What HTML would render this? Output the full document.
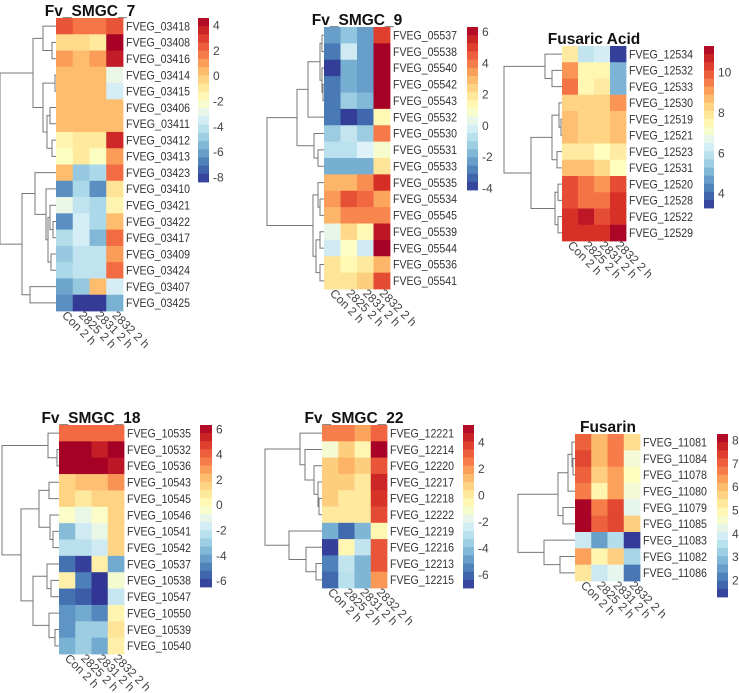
<!DOCTYPE html>
<html><head><meta charset="utf-8">
<style>
html,body{margin:0;padding:0;background:#fff;}
svg{display:block;font-family:"Liberation Sans",Arial,sans-serif;}
</style></head>
<body>
<svg id="fig" width="739" height="693" viewBox="0 0 739 693"></svg>
<script>
const columns = ["Con 2 h","2825 2 h","2831 2 h","2832 2 h"];

const smgc7Genes = ["FVEG_03418","FVEG_03408","FVEG_03416","FVEG_03414","FVEG_03415","FVEG_03406","FVEG_03411","FVEG_03412","FVEG_03413","FVEG_03423","FVEG_03410","FVEG_03421","FVEG_03422","FVEG_03417","FVEG_03409","FVEG_03424","FVEG_03407","FVEG_03425"];
const smgc7Values = [[2.5,1.8,1.8,2.5],[-0.5,-0.5,-1,4.5],[1,0.3,1,3.8],[0.3,0.3,0.3,-2.8],[0.3,0.3,0.3,-3.5],[0.3,0.3,0.3,0.3],[0.3,0.3,0.3,0.3],[-1.5,-1,-1,3.5],[-2,-1,-2,1],[0.3,-5,-4.5,2],[-6.5,-4.5,-6.5,-0.8],[-2.8,-4,-4.5,-1.5],[-6.5,-3.5,-4.5,0.3],[-4.3,-3.5,-5.5,2],[-5,-4,-4,1],[-4.5,-4,-4,2],[-6,-5,0.3,-3.5],[-6.5,-8.3,-8.3,-5.7]];
const smgc7Ticks = [4,2,0,-2,-4,-6,-8];
const smgc7Range = [-8.4,4.55];
const smgc7Tree = [56,[23,[13,0,[4,1,2]],[13,[1,3,4],[9,[6,5,6],[4,7,8]]]],[34,[21,9,[10,10,[8,[6,11,[3,12,13]],[5,14,15]]]],[26,16,17]]];

const smgc9Genes = ["FVEG_05537","FVEG_05538","FVEG_05540","FVEG_05542","FVEG_05543","FVEG_05532","FVEG_05530","FVEG_05531","FVEG_05533","FVEG_05535","FVEG_05534","FVEG_05545","FVEG_05539","FVEG_05544","FVEG_05536","FVEG_05541"];
const smgc9Values = [[-2.3,-1.5,-2.3,5],[-3,-0.3,-2.3,6.3],[-4,-2,-2.3,6.3],[-3,-2,-2.3,6.3],[-3,-1.3,-1.8,6.3],[-3,-4,-3.3,1.3],[-1.3,-0.5,-1.3,4],[-0.7,-0.7,0,0.8],[-2,-2,-2,2],[3,3,3.7,5.3],[3.5,4.7,4.3,3.3],[3,3.8,3.8,3.8],[0.3,2.3,1.3,5.8],[-0.3,1,-0.3,6.3],[2,1.3,1.8,3],[2,2,2.5,4.8]];
const smgc9Ticks = [6,4,2,0,-2,-4];
const smgc9Range = [-4.13,6.3];
const smgc9Tree = [57,[27,[16,[4,[2,0,1],[2,2,[1,3,4]]],5],[10,6,[6,7,8]]],[11,[6,9,[4,10,11]],[8,[4,12,13],[4,14,15]]]];

const faGenes = ["FVEG_12534","FVEG_12532","FVEG_12533","FVEG_12530","FVEG_12519","FVEG_12521","FVEG_12523","FVEG_12531","FVEG_12520","FVEG_12528","FVEG_12522","FVEG_12529"];
const faValues = [[7.8,6,6.3,3.4],[9.2,7.5,7.5,5],[9.6,7.5,7.8,5],[8.3,8.3,8.3,9.2],[8.6,8.3,8.3,8.6],[8.6,8.3,8.3,8.6],[7.8,7.8,7.3,7.8],[8.6,8.6,8.2,7.3],[10.1,9.6,9.2,10.1],[10.1,9.6,9.6,10.5],[10.5,10.9,10.1,10.5],[10.5,10.5,10.5,11.2]];
const faTicks = [10,8,6,4];
const faRange = [3.26,11.3];
const faTree = [58,[17,0,[10,1,2]],[31,[10,[3,3,[1,4,5]],[5,6,7]],[7,[4,8,9],[4,10,11]]]];

const smgc18Genes = ["FVEG_10535","FVEG_10532","FVEG_10536","FVEG_10543","FVEG_10545","FVEG_10546","FVEG_10541","FVEG_10542","FVEG_10537","FVEG_10538","FVEG_10547","FVEG_10550","FVEG_10539","FVEG_10540"];
const smgc18Values = [[3.8,3.8,3.8,3.8],[6.3,6.3,5.5,6.3],[6.3,6.3,6.3,5.7],[1.5,2,2,3],[1.5,0.8,1.5,1.5],[-0.3,-1,-0.3,1.5],[-3.5,-1.8,-1,1.5],[-2.3,-2.3,-1.8,1.5],[-5.3,-6.3,0.5,-4],[0.5,-5,-6.5,-0.5],[-5.3,-5.7,-6.5,-2],[-4.5,-4,-4.8,0.3],[-4.5,-3,-3,1],[-3.8,-3,-4,0.5]];
const smgc18Ticks = [6,4,2,0,-2,-4,-6];
const smgc18Range = [-6.5,6.3];
const smgc18Tree = [57,[11,0,[2,1,2]],[38,[20,[10,3,4],[9,5,[6,6,7]]],[26,[12,8,[8,9,10]],[10,11,[4,12,13]]]]];

const smgc22Genes = ["FVEG_12221","FVEG_12214","FVEG_12220","FVEG_12217","FVEG_12218","FVEG_12222","FVEG_12219","FVEG_12216","FVEG_12213","FVEG_12215"];
const smgc22Values = [[2.5,2.5,1.8,3],[-1.3,0.8,-0.5,5.2],[0.8,1.5,0.8,3.3],[0.8,0.8,0,4.3],[0.8,0,0,4],[0,0,0,3.5],[-4.5,-6,-4.3,-0.5],[-6.8,-0.5,-2.8,3.3],[-5.5,-2.8,-4.3,3.3],[-6,-3,-4.3,2]];
const smgc22Ticks = [4,2,0,-2,-4,-6];
const smgc22Range = [-7,5.28];
const smgc22Tree = [57,[22,0,[17,1,[8,2,[4,3,[3,4,5]]]]],[33,6,[16,7,[6,8,9]]]];

const fusGenes = ["FVEG_11081","FVEG_11084","FVEG_11078","FVEG_11080","FVEG_11079","FVEG_11085","FVEG_11083","FVEG_11082","FVEG_11086"];
const fusValues = [[7,6,6.7,5.5],[7.3,6,6.7,4.5],[7,5.7,6.3,4.8],[6.7,5,6.3,4.5],[8.2,6.7,7.3,4.2],[8.2,7,7.3,5.7],[3.8,2.5,3.5,1.3],[6.3,5,5.7,3.3],[5.3,3.8,4.2,2]];
const fusTicks = [8,7,6,5,4,3,2];
const fusRange = [1.27,8.26];
const fusTree = [57,[17,[7,[3,0,[2,1,2]],3],[12,4,5]],[31,6,[15,7,8]]];

const panels = [
 {id:"fv-smgc-7",title:"Fv_SMGC_7",genes:smgc7Genes,vals:smgc7Values,ticks:smgc7Ticks,range:smgc7Range,tree:smgc7Tree,x:56,y:18,w:67,h:293,tx:90,ty:11,lx:198,ly:18,lw:11,lh:164},
 {id:"fv-smgc-9",title:"Fv_SMGC_9",genes:smgc9Genes,vals:smgc9Values,ticks:smgc9Ticks,range:smgc9Range,tree:smgc9Tree,x:324,y:27,w:66,h:262,tx:357,ty:20,lx:467,ly:27,lw:11,lh:163},
 {id:"fusaric-acid",title:"Fusaric Acid",genes:faGenes,vals:faValues,ticks:faTicks,range:faRange,tree:faTree,x:562,y:46,w:64,h:195,tx:594,ty:39,lx:704,ly:46,lw:10,lh:162},
 {id:"fv-smgc-18",title:"Fv_SMGC_18",genes:smgc18Genes,vals:smgc18Values,ticks:smgc18Ticks,range:smgc18Range,tree:smgc18Tree,x:59,y:425,w:65,h:229,tx:91,ty:418,lx:200,ly:425,lw:12,lh:162},
 {id:"fv-smgc-22",title:"Fv_SMGC_22",genes:smgc22Genes,vals:smgc22Values,ticks:smgc22Ticks,range:smgc22Range,tree:smgc22Tree,x:322,y:425,w:65,h:163,tx:354,ty:418,lx:463,ly:425,lw:11,lh:163},
 {id:"fusarin",title:"Fusarin",genes:fusGenes,vals:fusValues,ticks:fusTicks,range:fusRange,tree:fusTree,x:575,y:434,w:65,h:147,tx:608,ty:427,lx:717,ly:434,lw:11,lh:163}
];

const stops = ["#313695","#4575B4","#74ADD1","#ABD9E9","#E0F3F8","#FFFFBF","#FEE090","#FDAE61","#F46D43","#D73027","#A50026"];
function hex(c){return [parseInt(c.slice(1,3),16),parseInt(c.slice(3,5),16),parseInt(c.slice(5,7),16)];}
function colorAt(t){
  t=Math.max(0,Math.min(1,t));
  const p=t*(stops.length-1), i=Math.min(Math.floor(p),stops.length-2), f=p-i;
  const a=hex(stops[i]), b=hex(stops[i+1]);
  return "rgb("+a.map((v,k)=>Math.round(v+(b[k]-v)*f)).join(",")+")";
}
const NS="http://www.w3.org/2000/svg";
const svg=document.getElementById('fig');
function mk(tag,attrs,parent){const e=document.createElementNS(NS,tag);for(const k in attrs)e.setAttribute(k,attrs[k]);(parent||svg).appendChild(e);return e;}

panels.forEach(P=>{
  const g=mk('g',{});
  
  
  const nR=P.genes.length, cw=P.w/4, rh=P.h/nR;
  const [lo,hi]=P.range;
  const norm=v=>(v-lo)/(hi-lo);
  const t=mk('text',{x:P.tx,y:P.ty+5,'text-anchor':'middle','font-size':'15.5','font-weight':'bold',fill:'#111'},g);
  t.textContent=P.title;
  
  
  P.vals.forEach((row,r)=>{
    row.forEach((v,c)=>{
      const rc=mk('rect',{x:P.x+c*cw,y:P.y+r*rh,width:cw+0.4,height:rh+0.4,fill:colorAt(norm(v))},g);
      
      
    });
    const lt=mk('text',{x:P.x+P.w+3,y:P.y+(r+0.5)*rh+4.3,'font-size':'12',fill:'#333',textLength:'64',lengthAdjust:'spacingAndGlyphs'},g);
    lt.textContent=P.genes[r];
    
    
  });
  columns.forEach((c,i)=>{
    const cx=P.x+(i+0.5)*cw-3, cy=P.y+P.h+5;
    const ct=mk('text',{x:cx,y:cy,'font-size':'12',fill:'#444',transform:`rotate(45 ${cx} ${cy})`},g);
    ct.textContent=c;
    
    
  });
  function draw(node){
    if(typeof node==='number') return {x:P.x,y:P.y+(node+0.5)*rh};
    const a=draw(node[1]), b=draw(node[2]);
    const nx=P.x-node[0];
    const d=`M${a.x},${a.y}H${nx}V${b.y}H${b.x}`;
    const pth=mk('path',{d:d,fill:'none',stroke:'#777','stroke-width':'1'},g);
    
    
    return {x:nx,y:(a.y+b.y)/2};
  }
  draw(P.tree);
  const nb=20;
  for(let i=0;i<nb;i++){
    const b=mk('rect',{x:P.lx,y:P.ly+i*P.lh/nb,width:P.lw,height:P.lh/nb+0.4,fill:colorAt(1-(i+0.5)/nb)},g);
    
    
  }
  P.ticks.forEach(tv=>{
    const yy=P.ly+(1-norm(tv))*P.lh;
    const tt=mk('text',{x:P.lx+P.lw+4,y:yy+4.5,'font-size':'12',fill:'#444'},g);
    tt.textContent=tv;
    
    
  });
});
</script>
</body></html>
